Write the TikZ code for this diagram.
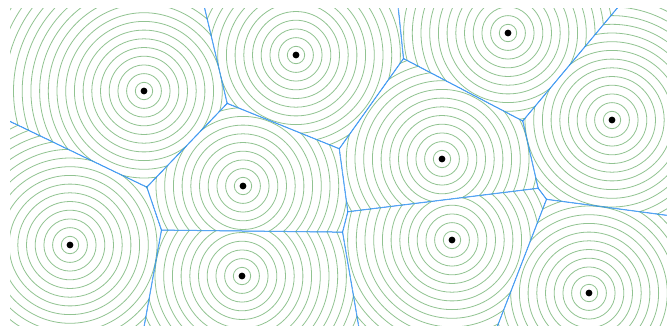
\documentclass[tikz,border=0pt]{standalone}
\usetikzlibrary{calc}

\definecolor{ringgreen}{RGB}{145,195,145}
\definecolor{edgeblue}{RGB}{40,140,240}

\begin{document}
\begin{tikzpicture}[
    x=1pt, y=-1pt,
    ring/.style={draw=ringgreen, line width=0.8pt},
    edge/.style={draw=edgeblue, line width=1pt},
    seed/.style={fill=black}
]
    \useasboundingbox (0,0) rectangle (667,327);

    % Seeds
    \foreach \n/\x/\y in {1/144/91, 2/296/55, 3/508/33, 4/612/120, 5/442/159,
                          6/243/186, 7/70/245, 8/242/276, 9/452/240, 10/589/293}
        \coordinate (s\n) at (\x,\y);

    % Cells: rings clipped by the half-planes of every other seed
    \foreach \i in {1,...,10} {
        \begin{scope}
            \clip (10,8) rectangle (667,325);
            \foreach \j in {1,...,10} {
                \ifnum\i=\j\relax\else
                    \path ($(s\i)!0.5!(s\j)$) coordinate (m);
                    \clip ($(m)!1100pt!90:(s\j)$) -- ($(m)!1100pt!180:(s\j)$) -- ($(m)!1100pt!270:(s\j)$) -- cycle;
                \fi
            }
            \foreach \k in {1,...,30}
                \draw[ring] (s\i) circle[radius=\k*8.7pt];
            % Cell borders (each side draws its half)
            \foreach \j in {1,...,10} {
                \ifnum\i=\j\relax\else
                    \path ($(s\i)!0.5!(s\j)$) coordinate (m);
                    \draw[edge] ($(m)!1000pt!90:(s\j)$) -- ($(m)!1000pt!270:(s\j)$);
                \fi
            }
        \end{scope}
    }

    % Seed dots
    \foreach \i in {1,...,10}
        \fill[seed] (s\i) circle[radius=3.4pt];

\end{tikzpicture}
\end{document}
